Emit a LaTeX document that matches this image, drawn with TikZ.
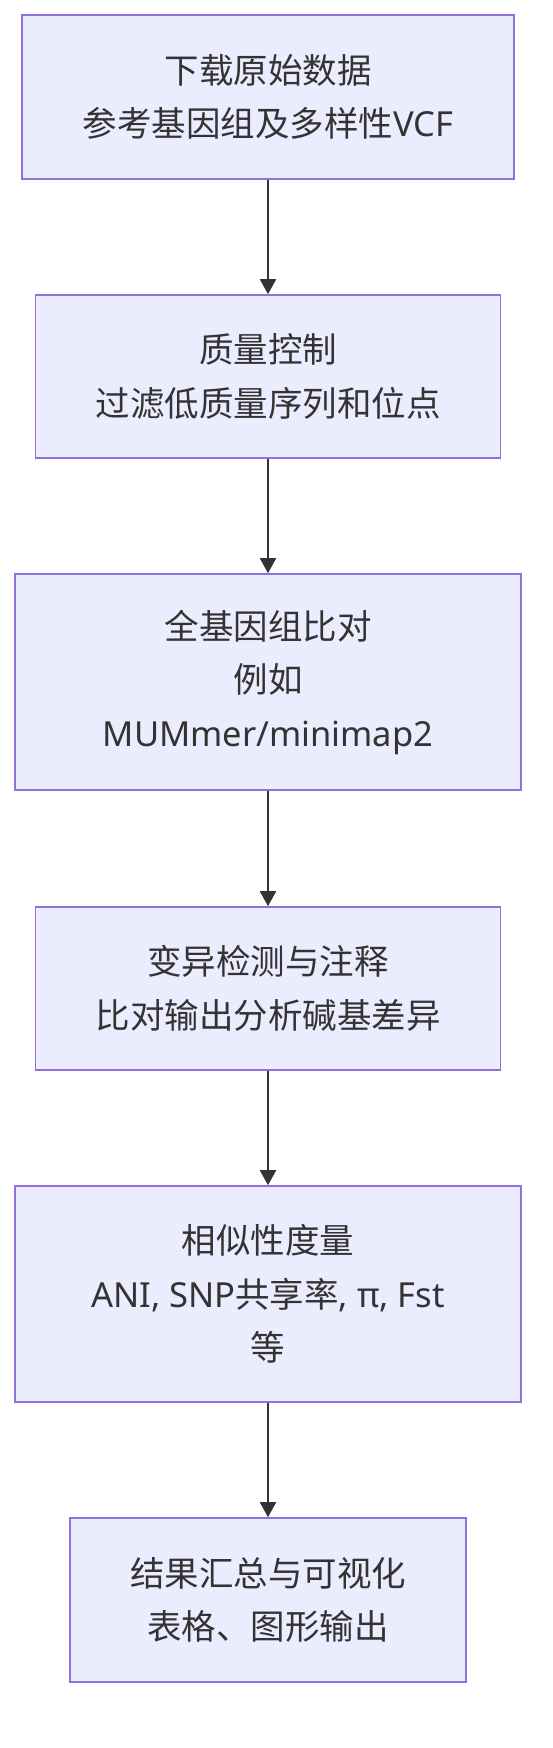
\documentclass[tikz,border=0pt]{standalone}
\usepackage{fontspec}
\setmainfont{Noto Sans}
\newfontfamily\cjk{Noto Sans CJK SC}
\usetikzlibrary{arrows.meta}
\definecolor{boxfill}{HTML}{ECECFF}
\definecolor{boxline}{HTML}{9370DB}
\definecolor{ink}{HTML}{333333}
\tikzset{
  stepbox/.style={rectangle,draw=boxline,fill=boxfill,line width=1.6pt,align=center,
    text=ink,inner sep=0pt,font=\fontsize{34.5}{53.5}\selectfont},
  flow/.style={draw=ink,line width=1.9pt,-{Triangle[length=15pt,width=16pt]}}
}
\begin{document}
\begin{tikzpicture}[x=1pt,y=-1pt]
        \useasboundingbox (0,0) rectangle (552,1748);
        \node[stepbox,minimum width=492pt,minimum height=164pt] (download) at (268,97) {{\cjk 下载原始数据}\\{\cjk 参考基因组及多样性}VCF};
        \node[stepbox,minimum width=465pt,minimum height=163pt] (qc) at (268,376.5) {{\cjk 质量控制}\\{\cjk 过滤低质量序列和位点}};
        \node[stepbox,minimum width=506pt,minimum height=216pt] (wga) at (268,682) {{\cjk 全基因组比对}\\{\cjk 例如}\\MUMmer/minimap2};
        \node[stepbox,minimum width=465pt,minimum height=163pt] (variant) at (268,988.5) {{\cjk 变异检测与注释}\\{\cjk 比对输出分析碱基差异}};
        \node[stepbox,minimum width=506pt,minimum height=216pt] (metric) at (268,1294) {{\cjk 相似性度量}\\ANI, SNP{\cjk 共享率}, π, Fst\\{\cjk 等}};
        \node[stepbox,minimum width=396pt,minimum height=164pt] (summary) at (268,1600) {{\cjk 结果汇总与可视化}\\{\cjk 表格、图形输出}};
        \draw[flow] (download)--(qc);
        \draw[flow] (qc)--(wga);
        \draw[flow] (wga)--(variant);
        \draw[flow] (variant)--(metric);
        \draw[flow] (metric)--(summary);
    \end{tikzpicture}
\end{document}
